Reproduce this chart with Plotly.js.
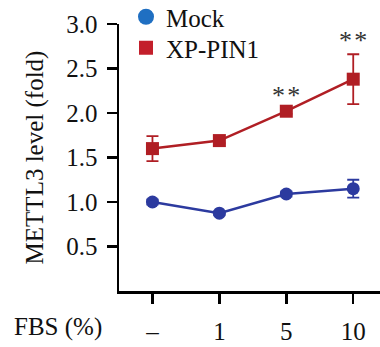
<!DOCTYPE html>
<html>
<head>
<meta charset="utf-8">
<script src="https://cdn.plot.ly/plotly-3.0.1.min.js"></script>
<style>html,body{margin:0;padding:0;background:#fff;}#chart{width:380px;height:347px;}</style>
</head>
<body>
<div id="chart"></div>
<script>
const categories = ['–', '1', '5', '10'];
const mockValues = [1.0, 0.875, 1.09, 1.15];
const mockErrors = [0.03, 0.02, 0.03, 0.10];
const pinValues = [1.60, 1.69, 2.02, 2.38];
const pinErrors = [0.14, 0.03, 0.03, 0.28];
const sigLabels = ['', '', '*\u200A*', '*\u200A*'];

const FONT = '"Liberation Serif", "Times New Roman", Times, serif';
const BLUE = '#2c3a9f';
const RED = '#b01e24';
const xIdx = categories.map((c, i) => i);

const traces = [
  {x: xIdx, y: mockValues, mode: 'lines+markers', showlegend: false,
   line: {color: BLUE, width: 2.5}, marker: {color: BLUE, size: 13, symbol: 'circle'},
   error_y: {type: 'data', array: mockErrors, color: BLUE, thickness: 1.8, width: 6}, cliponaxis: false},
  {x: xIdx, y: pinValues, mode: 'lines+markers', showlegend: false,
   line: {color: RED, width: 2.5}, marker: {color: RED, size: 13, symbol: 'square'},
   error_y: {type: 'data', array: pinErrors, color: RED, thickness: 1.8, width: 6}, cliponaxis: false},
  {x: [null], y: [null], mode: 'markers', name: 'Mock', legend: 'legend',
   marker: {color: '#1f6fc2', size: 16, symbol: 'circle'}},
  {x: [null], y: [null], mode: 'markers', name: 'XP-PIN1', legend: 'legend2',
   marker: {color: '#c31f2b', size: 14, symbol: 'square'}}
];

const annotations = [];
sigLabels.forEach((s, i) => {
  if (!s) return;
  annotations.push({x: i, y: pinValues[i] + pinErrors[i], xref: 'x', yref: 'y', text: s,
    showarrow: false, yanchor: 'bottom', yshift: -3,
    font: {family: FONT, size: 26, color: '#333'}});
});
annotations.push({x: -0.41, y: -0.135, xref: 'paper', yref: 'paper', text: 'FBS (%)',
  showarrow: false, xanchor: 'left', yanchor: 'middle', font: {family: FONT, size: 25, color: '#111'}});

const legendBase = {xanchor: 'left', yanchor: 'middle', bgcolor: 'rgba(0,0,0,0)',
  font: {family: FONT, size: 25, color: '#111'}};

const layout = {
  width: 380, height: 347,
  margin: {l: 119, r: 0, t: 24, b: 56, autoexpand: false},
  paper_bgcolor: '#fff', plot_bgcolor: '#fff',
  font: {family: FONT, size: 25, color: '#111'},
  xaxis: {range: [-0.5, 3.4], tickvals: xIdx, ticktext: categories, showgrid: false, zeroline: false,
    showline: true, linecolor: '#000', linewidth: 2.5, ticks: 'outside', ticklen: 10, tickwidth: 2.5,
    tickcolor: '#000', ticklabelstandoff: 6, tickfont: {family: FONT, size: 25, color: '#111'}},
  yaxis: {range: [0, 3], tickvals: [0.5, 1.0, 1.5, 2.0, 2.5, 3.0], tickformat: '.1f', showgrid: false, zeroline: false,
    showline: true, linecolor: '#000', linewidth: 2.5, ticks: 'outside', ticklen: 10, tickwidth: 2.5,
    tickcolor: '#000', ticklabelstandoff: 4, tickfont: {family: FONT, size: 25, color: '#111'},
    title: {text: 'METTL3 level (fold)', font: {family: FONT, size: 25, color: '#111'}, standoff: 16}},
  legend: Object.assign({x: (126 - 119) / 261, y: (291 - 17) / 267}, legendBase),
  legend2: Object.assign({x: (126 - 119) / 261, y: (291 - 48) / 267}, legendBase),
  annotations: annotations,
  showlegend: true
};

Plotly.newPlot('chart', traces, layout, {displayModeBar: false, staticPlot: true});
</script>
</body>
</html>
